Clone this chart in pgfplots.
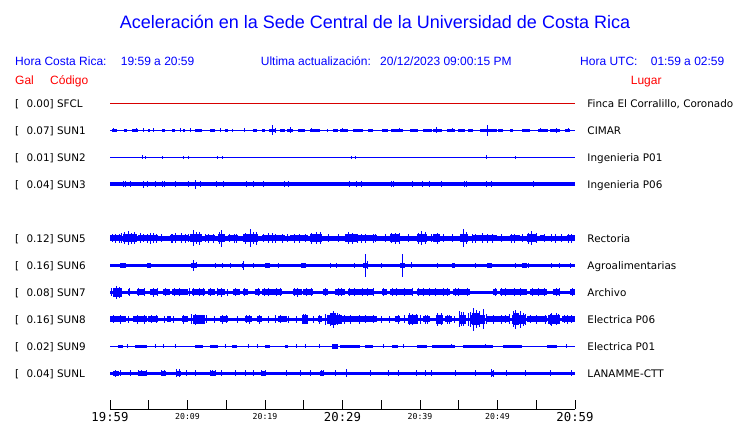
\documentclass[border=0pt]{standalone}
\usepackage{pgfplots}
\pgfplotsset{compat=1.18}
\usepackage{fontspec}
\setmainfont{Liberation Sans}
\newfontfamily\dv{DejaVu Sans}
\newfontfamily\dvm{DejaVu Sans Mono}
\definecolor{tb}{RGB}{0,0,255}
\definecolor{tr}{RGB}{255,0,0}
\definecolor{sf}{RGB}{215,0,0}
\pgfplotsset{
 burst/.style={draw=none, mark=none, forget plot,
   error bars/x dir=both, error bars/x explicit, error bars/error mark=none,
   error bars/error bar style={draw=tb, line width=#1, solid}},
 spike/.style={draw=none, mark=none, forget plot,
   error bars/y dir=both, error bars/y explicit, error bars/error mark=none,
   error bars/error bar style={draw=tb, line width=0.9bp, solid}},
}
\newcommand{\lab}{\dv\fontsize{10.4bp}{12bp}\selectfont}
\begin{document}
\begin{tikzpicture}
\path[use as bounding box] (-110bp,-14bp) rectangle (630bp,409bp);
\begin{axis}[
 at={(0,0)}, anchor=south west,
 x=7.75bp, y=1bp,
 xmin=0, xmax=60, ymin=-409, ymax=-95,
 axis x line=bottom, axis y line=none,
 axis line style={-, black, line width=1bp},
 xtick={0,5,...,60}, xticklabels={},
 xtick align=inside, major tick length=9bp,
 every tick/.style={black, line width=1bp},
 clip=false,
]
% SFCL
\addplot[sf, line width=1bp, forget plot] coordinates {(0,-103.3)(60,-103.3)};
% SUN1
\addplot[tb, line width=1bp, forget plot] coordinates {(0,-130.3)(60,-130.3)};
\addplot[burst=3.3bp] table[x index=0,y index=1,x error index=2]{
0.54 -130.3 0.32
2.0 -130.3 0.15
3.23 -130.3 0.43
5.05 -130.3 0.11
6.88 -130.3 0.22
8.17 -130.3 0.22
9.57 -130.3 0.11
11.4 -130.3 0.43
13.22 -130.3 0.33
15.05 -130.3 0.22
15.8 -130.3 0.11
18.71 -130.3 0.21
19.78 -130.3 0.22
20.93 -130.3 0.43
22.26 -130.3 0.32
23.23 -130.3 0.43
24.73 -130.3 0.43
26.45 -130.3 0.65
28.06 -130.3 0.11
29.14 -130.3 0.32
30.2 -130.3 0.54
32.05 -130.3 0.65
33.65 -130.3 0.33
35.47 -130.3 0.42
37.07 -130.3 0.78
39.25 -130.3 0.53
40.97 -130.3 0.54
42.26 -130.3 0.54
43.98 -130.3 0.54
45.38 -130.3 0.43
46.56 -130.3 0.32
48.82 -130.3 1.07
50.42 -130.3 0.32
51.82 -130.3 0.22
53.65 -130.3 0.55
55.92 -130.3 0.65
57.42 -130.3 0.65
59.02 -130.3 0.32
};
\addplot[spike] table[x index=0,y index=1,y error index=2]{
20.95 -130.3 5.2
48.69 -130.3 5.5
21.4 -130.3 2.5
23.3 -130.3 2.8
42.15 -130.3 3.0
57.55 -130.3 2.5
0.5 -130.3 2.0
3.4 -130.3 2.0
4.3 -130.3 2.2
5.59 -130.3 2.0
9.03 -130.3 2.0
10.32 -130.3 2.0
14.19 -130.3 2.0
17.33 -130.3 2.0
26.0 -130.3 2.2
30.0 -130.3 2.0
37.3 -130.3 2.0
44.2 -130.3 2.0
55.6 -130.3 2.0
59.1 -130.3 2.0
};
% SUN2
\addplot[tb, line width=1bp, forget plot] coordinates {(0,-157.3)(60,-157.3)};
\addplot[spike] table[x index=0,y index=1,y error index=2]{
4.17 -157.3 1.8
4.52 -157.3 1.6
6.75 -157.3 1.3
9.46 -157.3 1.3
10.11 -157.3 1.3
13.85 -157.3 1.5
14.5 -157.3 1.6
31.18 -157.3 1.5
31.61 -157.3 1.4
48.6 -157.3 1.8
52.3 -157.3 1.3
};
% SUN3
\addplot[tb, line width=3.8bp, forget plot] coordinates {(0,-184.3)(60,-184.3)};
\addplot[spike] table[x index=0,y index=1,y error index=2]{
1.72 -184.3 3.2
2.02 -184.3 3.2
2.58 -184.3 3.2
4.30 -184.3 3.6
4.82 -184.3 3.2
5.81 -184.3 3.2
6.75 -184.3 3.2
7.01 -184.3 3.2
8.39 -184.3 3.2
10.11 -184.3 3.2
11.05 -184.3 4.6
11.70 -184.3 3.2
13.68 -184.3 3.2
14.62 -184.3 3.2
17.63 -184.3 3.2
18.5 -184.3 3.2
19.78 -184.3 3.2
22.49 -184.3 3.2
23.01 -184.3 3.2
30.88 -184.3 3.2
31.83 -184.3 3.2
32.47 -184.3 3.2
36.34 -184.3 3.2
36.56 -184.3 3.2
39.01 -184.3 3.2
40.3 -184.3 3.2
41.2 -184.3 3.2
42.8 -184.3 3.2
45.72 -184.3 3.2
46.02 -184.3 3.2
48.52 -184.3 3.2
49.25 -184.3 3.2
54.62 -184.3 3.2
};
% SUN5
\addplot[tb, line width=4.7bp, forget plot] coordinates {(0,-238.3)(60,-238.3)};
\addplot[burst=6.3bp] table[x index=0,y index=1,x error index=2]{
0.75 -238.3 0.75
4.95 -238.3 1.29
8.92 -238.3 1.18
12.9 -238.3 0.65
15.92 -238.3 0.65
21.07 -238.3 1.5
24.42 -238.3 1.18
33.1 -238.3 1.31
48.28 -238.3 1.61
52.25 -238.3 0.65
55.8 -238.3 0.33
59.46 -238.3 0.54
};
\addplot[burst=8bp] table[x index=0,y index=1,x error index=2]{
2.58 -238.3 0.86
11.07 -238.3 0.75
14.41 -238.3 0.43
18.17 -238.3 0.97
26.56 -238.3 0.75
31.07 -238.3 0.75
36.77 -238.3 0.65
40.21 -238.3 0.65
42.15 -238.3 0.43
45.7 -238.3 0.54
54.42 -238.3 0.62
};
\addplot[spike] table[x index=0,y index=1,y error index=2]{
2.4 -238.3 7
5.6 -238.3 5
8.5 -238.3 5
10.75 -238.3 8
11.2 -238.3 6
14.4 -238.3 8.5
18.1 -238.3 9
18.5 -238.3 6
20.5 -238.3 5
26.6 -238.3 6
30.8 -238.3 6
33.0 -238.3 4.5
36.8 -238.3 5.5
40.2 -238.3 7
42.2 -238.3 5.5
45.6 -238.3 9
48.0 -238.3 5
54.4 -238.3 7
57.5 -238.3 4.5
59.5 -238.3 4.5
0.7 -238.3 4.5
1.2 -238.3 4.5
3.9 -238.3 5
4.8 -238.3 4.5
6.0 -238.3 4.5
8.0 -238.3 4.5
9.7 -238.3 4.5
12.7 -238.3 4.5
16.0 -238.3 4.5
21.3 -238.3 4.5
22.2 -238.3 4.5
24.5 -238.3 4.5
32.5 -238.3 4.5
34.0 -238.3 4.5
47.2 -238.3 4.5
49.3 -238.3 4.5
52.2 -238.3 4.5
0.3 -238.3 4
1.5 -238.3 5
1.9 -238.3 6
2.8 -238.3 5.5
3.2 -238.3 6
4.3 -238.3 4
5.2 -238.3 5.5
6.6 -238.3 4
7.9 -238.3 4.5
9.2 -238.3 5
10.1 -238.3 4
11.6 -238.3 6.5
12.3 -238.3 4
13.3 -238.3 4.5
14.1 -238.3 6
15.4 -238.3 4
16.3 -238.3 4.5
17.5 -238.3 5.5
18.9 -238.3 6.5
19.8 -238.3 4
20.9 -238.3 5
22.9 -238.3 4
23.8 -238.3 4.5
25.2 -238.3 4
26.0 -238.3 5.5
27.1 -238.3 6
28.2 -238.3 3.8
29.5 -238.3 3.8
31.3 -238.3 5.5
31.9 -238.3 4.5
34.3 -238.3 4
35.5 -238.3 3.8
36.3 -238.3 5
37.3 -238.3 5.5
38.5 -238.3 3.8
39.8 -238.3 5.5
40.7 -238.3 6
41.5 -238.3 4
43.0 -238.3 3.8
44.2 -238.3 3.8
46.0 -238.3 6
46.8 -238.3 4.5
48.7 -238.3 4.5
50.5 -238.3 3.8
51.8 -238.3 4.5
53.2 -238.3 4
54.0 -238.3 5.5
55.0 -238.3 5
56.0 -238.3 4
57.0 -238.3 3.8
58.3 -238.3 3.8
59.2 -238.3 4.5
};
% SUN6
\addplot[tb, line width=3.4bp, forget plot] coordinates {(0,-265.5)(60,-265.5)};
\addplot[burst=5bp] table[x index=0,y index=1,x error index=2]{
1.7 -265.5 0.4
5.05 -265.5 0.3
10.8 -265.5 0.35
17.2 -265.5 0.15
20.3 -265.5 0.3
25.0 -265.5 0.3
32.9 -265.5 0.3
37.72 -265.5 0.3
44.3 -265.5 0.2
49.0 -265.5 0.3
53.5 -265.5 0.3
};
\addplot[spike] table[x index=0,y index=1,y error index=2]{
1.72 -265.5 2.6
5.08 -265.5 2.8
10.75 -265.5 5.2
11.2 -265.5 3.0
13.6 -265.5 2.6
14.5 -265.5 2.6
15.5 -265.5 2.4
17.2 -265.5 4.2
18.5 -265.5 2.4
20.22 -265.5 2.8
21.7 -265.5 2.6
28.5 -265.5 2.4
29.2 -265.5 2.4
31.5 -265.5 2.4
32.9 -265.5 11.3
33.2 -265.5 4.0
35.0 -265.5 2.4
37.72 -265.5 11.3
38.9 -265.5 3.0
42.3 -265.5 2.4
44.3 -265.5 2.6
47.1 -265.5 2.4
52.3 -265.5 2.4
54.0 -265.5 2.6
57.0 -265.5 2.4
58.0 -265.5 2.4
59.4 -265.5 2.6
};
% SUN7
\addplot[tb, line width=3.3bp, forget plot] coordinates {(0,-292.3)(60,-292.3)};
\addplot[burst=5.6bp] table[x index=0,y index=1,x error index=2]{
2.47 -292.3 0.11
3.98 -292.3 0.54
5.7 -292.3 0.54
7.31 -292.3 0.43
9.03 -292.3 1.07
11.4 -292.3 0.86
13.12 -292.3 0.43
14.41 -292.3 0.43
16.34 -292.3 0.43
17.52 -292.3 0.32
19.03 -292.3 0.32
20.86 -292.3 1.29
24.2 -292.3 0.54
25.6 -292.3 0.65
27.85 -292.3 0.32
29.68 -292.3 0.65
32.37 -292.3 1.61
35.38 -292.3 0.32
37.64 -292.3 1.5
41.72 -292.3 2.15
45.38 -292.3 1.07
49.68 -292.3 0.22
52.04 -292.3 1.72
55.27 -292.3 1.07
57.63 -292.3 0.43
59.68 -292.3 0.32
};
\addplot[burst=8.5bp] table[x index=0,y index=1,x error index=2]{
0.97 -292.3 0.54
};
\addplot[spike] table[x index=0,y index=1,y error index=2]{
0.8 -292.3 6.5
1.2 -292.3 5.5
0.55 -292.3 4.5
5.6 -292.3 4.5
14.4 -292.3 4.5
24.2 -292.3 4.5
9.0 -292.3 3.8
11.5 -292.3 3.8
16.2 -292.3 3.8
20.5 -292.3 3.8
21.5 -292.3 3.8
27.8 -292.3 3.8
29.5 -292.3 4.0
31.5 -292.3 3.8
33.2 -292.3 3.8
36.5 -292.3 3.8
38.0 -292.3 4.0
40.5 -292.3 3.8
42.0 -292.3 3.8
45.0 -292.3 3.8
51.0 -292.3 3.8
53.0 -292.3 4.0
55.3 -292.3 3.8
57.6 -292.3 3.8
0.2 -292.3 4
1.5 -292.3 4.5
2.5 -292.3 3.8
3.7 -292.3 4
4.4 -292.3 3.8
6.1 -292.3 3.8
7.2 -292.3 4.2
8.3 -292.3 4
10.2 -292.3 3.8
10.8 -292.3 4
12.0 -292.3 4
12.9 -292.3 3.8
13.9 -292.3 4.2
15.1 -292.3 3.5
17.4 -292.3 4
19.1 -292.3 4
19.9 -292.3 3.8
22.0 -292.3 4
23.8 -292.3 3.8
25.3 -292.3 4.2
26.0 -292.3 4
29.9 -292.3 3.8
30.9 -292.3 4
32.6 -292.3 4
34.0 -292.3 3.8
35.3 -292.3 4
37.0 -292.3 4
39.0 -292.3 4
39.8 -292.3 4.2
41.2 -292.3 4
43.0 -292.3 4
43.6 -292.3 3.8
44.6 -292.3 4
46.1 -292.3 4
49.7 -292.3 4
50.5 -292.3 4
52.2 -292.3 3.8
54.5 -292.3 4.2
56.0 -292.3 4
58.0 -292.3 3.8
59.7 -292.3 4
};
% SUN8
\addplot[tb, line width=3.7bp, forget plot] coordinates {(0,-319.5)(60,-319.5)};
\addplot[burst=6bp] table[x index=0,y index=1,x error index=2]{
1.0 -319.5 1.0
3.87 -319.5 0.86
5.6 -319.5 0.65
7.6 -319.5 0.3
9.68 -319.5 0.43
14.73 -319.5 0.54
17.85 -319.5 0.43
19.25 -319.5 0.32
22.26 -319.5 0.54
27.1 -319.5 0.22
30.97 -319.5 1.29
33.33 -319.5 1.07
37.1 -319.5 0.33
40.86 -319.5 0.43
43.65 -319.5 0.43
50.1 -319.5 1.5
55.05 -319.5 1.29
59.14 -319.5 0.86
};
\addplot[burst=8.5bp] table[x index=0,y index=1,x error index=2]{
11.5 -319.5 0.75
25.16 -319.5 0.43
28.92 -319.5 0.97
39.14 -319.5 0.64
42.5 -319.5 0.5
45.51 -319.5 0.43
47.42 -319.5 0.97
52.69 -319.5 0.86
57.31 -319.5 0.75
};
\addplot[burst=12bp] table[x index=0,y index=1,x error index=2]{
28.8 -319.5 0.4
47.2 -319.5 0.45
52.4 -319.5 0.4
};
\addplot[spike] table[x index=0,y index=1,y error index=2]{
28.82 -319.5 8.5
28.4 -319.5 6.5
29.3 -319.5 6
11.0 -319.5 5.5
11.9 -319.5 4.5
25.2 -319.5 5
39.0 -319.5 5.5
39.5 -319.5 5
42.3 -319.5 6.5
42.8 -319.5 6
45.08 -319.5 8
45.6 -319.5 7
46.84 -319.5 11.7
47.3 -319.5 9
48.17 -319.5 10
46.5 -319.5 7.5
52.26 -319.5 9.5
52.0 -319.5 8
52.9 -319.5 7.5
53.3 -319.5 6.5
57.0 -319.5 6.5
57.6 -319.5 6
3.5 -319.5 4.5
6.0 -319.5 4
15.0 -319.5 4
18.0 -319.5 4.5
22.0 -319.5 4
31.0 -319.5 4.2
34.0 -319.5 4
37.2 -319.5 4.5
41.0 -319.5 4.5
43.5 -319.5 4.5
50.5 -319.5 4.2
55.0 -319.5 4.2
59.0 -319.5 4.5
0.4 -319.5 4
1.3 -319.5 4.5
2.4 -319.5 3.8
4.4 -319.5 4.5
5.3 -319.5 4
7.0 -319.5 3.8
8.2 -319.5 3.8
9.5 -319.5 4.5
10.5 -319.5 5
12.4 -319.5 4
13.5 -319.5 3.8
14.5 -319.5 4.5
16.5 -319.5 3.8
17.6 -319.5 4
19.3 -319.5 4.2
20.5 -319.5 3.8
21.3 -319.5 4
23.0 -319.5 3.8
24.0 -319.5 3.8
24.9 -319.5 5
26.2 -319.5 3.8
27.0 -319.5 4.5
27.8 -319.5 5.5
29.6 -319.5 5
30.3 -319.5 4.5
32.2 -319.5 4.2
33.0 -319.5 4
35.0 -319.5 3.8
36.0 -319.5 3.8
38.0 -319.5 4
38.7 -319.5 6
40.0 -319.5 4.2
40.7 -319.5 4.5
43.8 -319.5 4.5
44.5 -319.5 3.8
45.3 -319.5 7
46.2 -319.5 6.5
47.7 -319.5 8
48.6 -319.5 5
49.5 -319.5 4.2
51.0 -319.5 4
51.6 -319.5 5
53.0 -319.5 8.5
53.6 -319.5 5.5
54.2 -319.5 4
56.2 -319.5 4.5
56.8 -319.5 5.5
57.9 -319.5 5
58.6 -319.5 4
59.5 -319.5 4
};
% SUN9
\addplot[tb, line width=1bp, forget plot] coordinates {(0,-346.3)(60,-346.3)};
\addplot[burst=3bp] table[x index=0,y index=1,x error index=2]{
1.4 -346.3 0.32
3.98 -346.3 0.75
11.5 -346.3 0.54
13.44 -346.3 0.54
16.02 -346.3 0.32
20.32 -346.3 0.32
22.8 -346.3 0.22
30.97 -346.3 1.29
33.44 -346.3 0.54
36.77 -346.3 0.43
40.21 -346.3 0.65
43.0 -346.3 1.5
47.52 -346.3 1.93
51.92 -346.3 1.18
56.98 -346.3 0.65
};
\addplot[burst=4.5bp] table[x index=0,y index=1,x error index=2]{
29.03 -346.3 0.43
};
\addplot[spike] table[x index=0,y index=1,y error index=2]{
2.2 -346.3 1.8
5.81 -346.3 1.8
6.88 -346.3 1.8
8.5 -346.3 1.8
14.84 -346.3 1.8
17.85 -346.3 1.8
19.0 -346.3 1.8
24.0 -346.3 1.8
25.16 -346.3 1.8
27.0 -346.3 1.8
35.27 -346.3 1.8
37.85 -346.3 1.8
44.0 -346.3 1.8
48.5 -346.3 1.8
58.92 -346.3 1.8
};
% SUNL
\addplot[tb, line width=3.4bp, forget plot] coordinates {(0,-373.3)(60,-373.3)};
\addplot[burst=4.8bp] table[x index=0,y index=1,x error index=2]{
0.75 -373.3 0.4
4.2 -373.3 0.55
6.9 -373.3 0.3
8.8 -373.3 0.3
13.2 -373.3 0.35
19.8 -373.3 0.3
27.4 -373.3 0.25
49.35 -373.3 0.25
};
\addplot[spike] table[x index=0,y index=1,y error index=2]{
0.65 -373.3 3.5
1.29 -373.3 3
2.58 -373.3 3
3.66 -373.3 3
4.1 -373.3 3
4.73 -373.3 3
6.67 -373.3 3
7.0 -373.3 3
8.6 -373.3 4
8.9 -373.3 4
9.89 -373.3 3
10.97 -373.3 3
12.9 -373.3 3
13.2 -373.3 3
13.55 -373.3 3
14.41 -373.3 3
16.13 -373.3 3
17.42 -373.3 3
18.5 -373.3 3
19.57 -373.3 3
20.0 -373.3 3
22.8 -373.3 3
24.52 -373.3 3
25.81 -373.3 3
27.31 -373.3 3
27.53 -373.3 3
29.03 -373.3 3
30.54 -373.3 4
33.55 -373.3 3
35.91 -373.3 3
37.2 -373.3 3
39.57 -373.3 3
40.65 -373.3 3
41.51 -373.3 3
44.52 -373.3 3
47.1 -373.3 3
49.25 -373.3 4
49.46 -373.3 3.5
51.18 -373.3 3
53.55 -373.3 3
56.77 -373.3 3
59.57 -373.3 3
};
\end{axis}
\begin{scope}[shift={(-110bp,409bp)}, x=1bp, y=-1bp]
\node[anchor=base, text=tb, inner sep=0, font=\fontsize{18bp}{20bp}\selectfont] at (375,28.5) {Aceleración en la Sede Central de la Universidad de Costa Rica};
\begin{scope}[every node/.style={anchor=base west, inner sep=0, text=tb, font=\fontsize{12bp}{14bp}\selectfont}]
\node at (15,65.5) {Hora Costa Rica:};
\node at (120.7,65.5) {19:59 a 20:59};
\node at (260.7,65.5) {Ultima actualización:};
\node at (380,65.5) {20/12/2023 09:00:15 PM};
\node at (580,65.5) {Hora UTC:};
\node at (650.7,65.5) {01:59 a 02:59};
\node[text=tr] at (15,85) {Gal};
\node[text=tr] at (50,85) {Código};
\node[text=tr] at (630.7,85) {Lugar};
\end{scope}
\begin{scope}[every node/.style={anchor=base west, inner sep=0, text=black, font=\lab}]
\node at (15,107.1) {[\hspace{7.3bp}0.00] SFCL};
\node at (15,134.1) {[\hspace{7.3bp}0.07] SUN1};
\node at (15,161.1) {[\hspace{7.3bp}0.01] SUN2};
\node at (15,188.1) {[\hspace{7.3bp}0.04] SUN3};
\node at (15,242.1) {[\hspace{7.3bp}0.12] SUN5};
\node at (15,269.3) {[\hspace{7.3bp}0.16] SUN6};
\node at (15,296.1) {[\hspace{7.3bp}0.08] SUN7};
\node at (15,323.3) {[\hspace{7.3bp}0.16] SUN8};
\node at (15,350.1) {[\hspace{7.3bp}0.02] SUN9};
\node at (15,377.1) {[\hspace{7.3bp}0.04] SUNL};
\node at (587.3,107.1) {Finca El Corralillo, Coronado};
\node at (587.3,134.1) {CIMAR};
\node at (587.3,161.1) {Ingenieria P01};
\node at (587.3,188.1) {Ingenieria P06};
\node at (587.3,242.1) {Rectoria};
\node at (587.3,269.3) {Agroalimentarias};
\node at (587.3,296.1) {Archivo};
\node at (587.3,323.3) {Electrica P06};
\node at (587.3,350.1) {Electrica P01};
\node at (587.3,377.1) {LANAMME-CTT};
\end{scope}
\begin{scope}[every node/.style={anchor=base, inner sep=0, text=black}]
\node[font=\dvm\fontsize{12.3bp}{14bp}\selectfont] at (110,421.2) {19:59};
\node[font=\dvm\fontsize{12.3bp}{14bp}\selectfont] at (342.5,421.2) {20:29};
\node[font=\dvm\fontsize{12.3bp}{14bp}\selectfont] at (575,421.2) {20:59};
\node[font=\dvm\fontsize{8.2bp}{10bp}\selectfont] at (187.5,419.3) {20:09};
\node[font=\dvm\fontsize{8.2bp}{10bp}\selectfont] at (265,419.3) {20:19};
\node[font=\dvm\fontsize{8.2bp}{10bp}\selectfont] at (420,419.3) {20:39};
\node[font=\dvm\fontsize{8.2bp}{10bp}\selectfont] at (497.5,419.3) {20:49};
\end{scope}
\end{scope}
\end{tikzpicture}
\end{document}
